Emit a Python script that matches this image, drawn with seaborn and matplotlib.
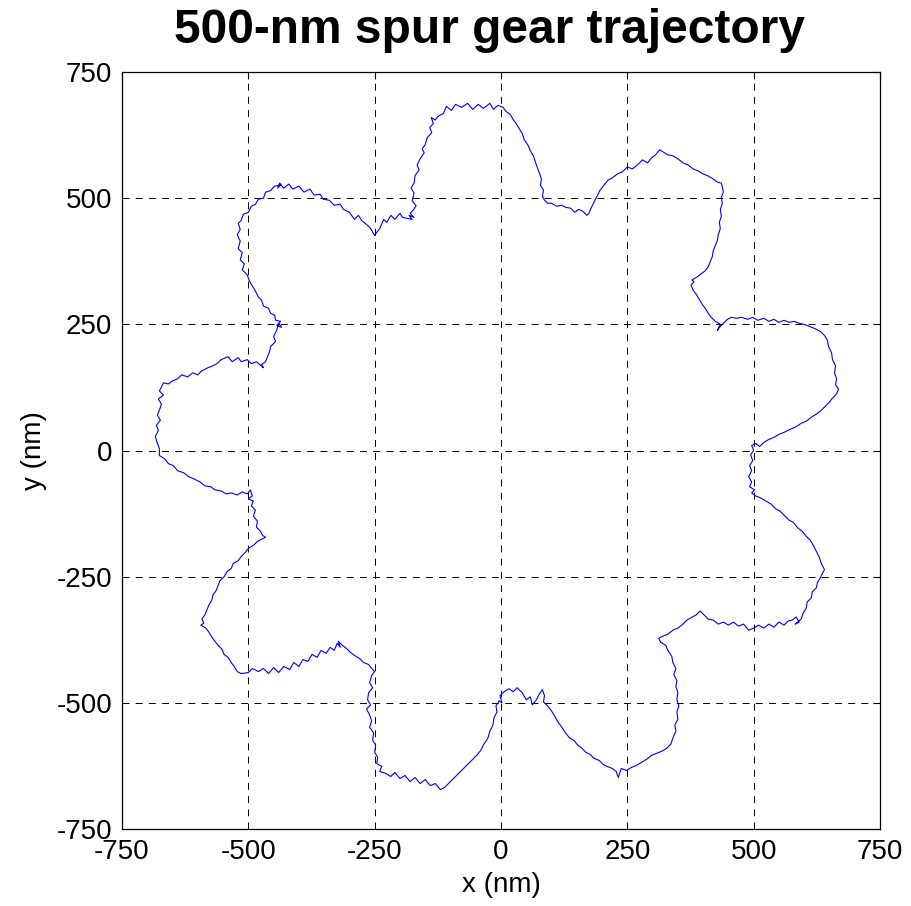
import matplotlib
matplotlib.use("Agg")
import matplotlib.pyplot as plt
import seaborn as sns
import pandas as pd

# Trajectory traced around the gear outline (nm)
x_nm = [
    -125, -130, -138, -134, -141, -137, -146, -150, -156, -152, -160, -166, -162, -170, -172, -178, -172, -176, -168, -174, -180, -172, -182, -176,
    -195, -200, -210, -218, -226, -232, -240, -246, -250,
    -258, -266, -276, -282, -290, -300, -312, -318, -330, -340, -352, -358, -370, -378, -390, -400, -412, -420, -430, -438, -442, -436, -448, -456, -466, -470, -480, -486, -494, -500, -510, -514, -520,
    -516, -522, -516, -520, -512, -516, -508, -512, -502, -498, -492, -486, -480, -474, -470, -460, -456, -448, -446, -436, -444, -434, -440,
    -444, -450, -446, -456, -458, -462, -466, -474, -470,
    -484, -494, -502, -514, -520, -532, -540, -554, -562, -570, -580, -592, -600, -610, -620, -632, -640, -650, -658, -668, -672,
    -676, -668, -678, -672, -676, -680, -674, -682, -678, -684, -680, -676,
    -676, -666, -658, -648, -640, -628, -618, -608, -596, -586, -574, -566, -554, -544, -534, -522, -512, -502, -496, -492, -500, -490,
    -494, -486, -490, -482, -484, -476, -472, -466, -474,
    -482, -490, -500, -506, -514, -520, -530, -534, -542, -548, -556, -560, -564, -570, -572, -578, -582, -586, -592, -588, -594,
    -584, -578, -572, -566, -560, -552, -548, -540, -534, -528, -522, -514,
    -500, -492, -480, -470, -460, -450, -440, -430, -418, -410, -400, -392, -382, -374, -364, -356, -346, -338, -330, -324, -318, -322, -314,
    -306, -298, -290, -280, -272, -262, -256, -250,
    -256, -260, -254, -262, -264, -258, -266, -260, -256, -260, -252, -254, -248, -250, -244, -246, -236, -240,
    -228, -218, -210, -200, -190, -180, -170, -160, -150, -140, -130, -120, -112,
    -104, -96, -88, -80, -72, -64, -56, -48, -40, -34, -26, -22, -16, -14, -8, -10, -4, 2, -2,
    6, 16, 24, 32, 42, 50, 58, 62, 70, 76, 82, 86, 84, 92,
    100, 106, 114, 120, 128, 136, 144, 152, 160, 168, 176, 184, 194, 202, 210, 220, 228, 232, 238,
    248, 258, 268, 278, 288, 298, 308, 318, 328, 336, 340, 346, 344, 350, 348, 352, 348, 350, 346, 348, 342, 346, 340, 338, 330, 326, 316, 312, 320,
    330, 340, 350, 360, 368, 378, 386, 394, 402, 410, 420, 430, 440, 450, 460,
    470, 480, 490, 500, 510, 520, 530, 540, 550, 560, 568, 576, 584, 590, 582, 594,
    598, 604, 606, 614, 616, 624, 626, 632, 636, 640,
    634, 630, 624, 618, 612, 604, 596, 588, 578, 570, 560, 552, 544, 534, 524, 514, 504, 496, 502, 492,
    496, 490, 496, 492, 498, 494, 500, 496, 504,
    512, 520, 530, 540, 550, 560, 572, 582, 594, 604, 614, 624, 634, 642, 650, 656, 664, 668, 662,
    664, 660, 662, 656, 654, 648, 646, 640, 632,
    620, 610, 600, 590, 580, 570, 560, 550, 540, 530, 520, 508, 498, 488, 476, 466, 456, 448,
    440, 432, 428, 434, 424, 416, 410, 404, 398, 392, 386, 380, 376, 382, 378,
    388, 396, 404, 410, 414, 418, 420, 424, 428, 430, 434, 432, 436, 434, 438, 436, 440, 438, 436,
    428, 420, 410, 400, 390, 380, 370, 360, 350, 340, 330, 320, 314,
    306, 298, 290, 280, 270, 260, 250, 240, 230, 220, 212, 204, 196, 190, 184, 178, 174, 170,
    162, 154, 146, 138, 128, 120, 110, 100, 92, 86, 82,
    84, 78, 80, 76, 72, 68, 64, 58, 54, 46, 42, 36, 30, 24, 18, 10, 4,
    -6, -15, -22, -35, -45, -56, -66, -78, -90, -98, -108, -114, -125,
]
y_nm = [
    662, 655, 660, 648, 640, 630, 620, 606, 598, 590, 578, 566, 556, 545, 530, 520, 510, 495, 485, 476, 470, 462, 466, 458,
    462, 470, 458, 466, 452, 458, 440, 432, 426,
    440, 448, 456, 466, 458, 472, 478, 488, 486, 496, 498, 508, 506, 518, 512, 524, 518, 528, 520, 530, 520, 526, 524, 515, 512, 500, 498, 488, 484, 472, 468, 456, 450,
    438, 428, 415, 400, 392, 378, 370, 358, 348, 336, 326, 316, 304, 298, 286, 282, 272, 268, 258, 256, 248, 244, 252,
    238, 226, 216, 206, 196, 186, 176, 170, 164,
    176, 172, 180, 176, 184, 176, 186, 180, 172, 168, 164, 158, 150, 154, 146, 150, 142, 138, 132, 134, 126,
    118, 110, 102, 92, 80, 70, 60, 50, 40, 28, 14, 4,
    -10, -16, -26, -30, -40, -44, -52, -56, -62, -70, -72, -78, -80, -86, -84, -88, -82, -86, -78, -90, -96, -100,
    -110, -118, -130, -140, -152, -160, -168, -172, -176,
    -180, -188, -194, -202, -210, -218, -224, -234, -240, -250, -258, -268, -278, -286, -296, -306, -316, -326, -334, -342, -346,
    -352, -360, -370, -378, -386, -394, -404, -410, -420, -428, -438, -442,
    -440, -432, -438, -432, -442, -430, -440, -428, -434, -420, -428, -414, -418, -404, -410, -396, -402, -390, -396, -382, -390, -378, -386,
    -392, -400, -406, -412, -420, -424, -432, -438,
    -446, -460, -470, -480, -494, -504, -512, -524, -536, -548, -560, -574, -584, -598, -608, -620, -626, -636,
    -640, -646, -638, -650, -644, -656, -648, -660, -652, -664, -660, -672, -668,
    -660, -652, -644, -636, -628, -620, -612, -604, -594, -582, -570, -556, -544, -530, -518, -506, -496, -500, -486,
    -478, -472, -478, -470, -480, -494, -488, -504, -494, -482, -474, -486, -498, -506,
    -516, -526, -540, -548, -560, -570, -574, -584, -590, -598, -602, -610, -614, -622, -626, -630, -636, -648, -630,
    -634, -628, -624, -618, -612, -604, -600, -596, -590, -582, -570, -556, -544, -532, -518, -506, -494, -480, -468, -456, -444, -432, -420, -408, -396, -386, -380, -372, -368,
    -364, -356, -352, -344, -336, -330, -326, -318, -326, -334, -336, -344, -340, -346, -340,
    -348, -344, -356, -352, -346, -352, -344, -350, -340, -346, -338, -336, -330, -340, -344, -334,
    -322, -312, -300, -292, -280, -272, -262, -252, -244, -236,
    -224, -212, -200, -188, -178, -170, -160, -154, -142, -138, -128, -120, -116, -106, -100, -94, -90, -84, -78, -72,
    -62, -52, -40, -30, -20, -8, 0, 10, 14,
    8, 16, 22, 26, 32, 36, 42, 46, 54, 58, 66, 72, 80, 88, 96, 104, 112, 122, 130,
    142, 154, 168, 180, 194, 206, 218, 228, 236,
    242, 246, 250, 252, 256, 254, 258, 254, 260, 256, 262, 258, 264, 260, 264, 262, 264, 260,
    252, 244, 238, 250, 256, 264, 272, 282, 290, 300, 310, 318, 328, 334, 338,
    344, 350, 356, 364, 374, 384, 396, 406, 416, 428, 440, 452, 464, 478, 490, 502, 512, 522, 530,
    532, 538, 544, 548, 554, 558, 566, 570, 578, 584, 586, 592, 596,
    586, 580, 570, 576, 566, 558, 562, 552, 548, 540, 536, 526, 516, 504, 492, 480, 470, 466,
    474, 478, 472, 480, 482, 486, 484, 490, 490, 496, 504,
    516, 526, 538, 550, 560, 572, 584, 594, 604, 616, 628, 638, 648, 656, 666, 672, 680,
    684, 676, 688, 678, 686, 676, 688, 680, 686, 674, 682, 668, 662,
]

ticks = [-750, -500, -250, 0, 250, 500, 750]

n = min(len(x_nm), len(y_nm))
df = pd.DataFrame({"x": x_nm[:n], "y": y_nm[:n], "step": range(n)})

sns.set_style("white")
plt.rcParams["font.family"] = ["Liberation Sans", "DejaVu Sans"]
plt.rcParams["lines.scale_dashes"] = False
plt.rcParams["text.color"] = "black"
plt.rcParams["axes.labelcolor"] = "black"

fig = plt.figure(figsize=(9.11, 9.06), dpi=100)
ax = fig.add_axes([0.1339, 0.085, 0.8321, 0.8355])

sns.lineplot(data=df, x="x", y="y", sort=False, estimator=None,
             color="#0000ff", linewidth=0.8, ax=ax)

ax.set_xlim(-750, 750)
ax.set_ylim(-750, 750)
ax.set_xticks(ticks)
ax.set_yticks(ticks)
ax.set_xticklabels([str(t) for t in ticks])
ax.set_yticklabels([str(t) for t in ticks])
ax.grid(True, color="black", linestyle=(0, (5, 4.5)), linewidth=0.7)
ax.tick_params(direction="in", length=5, width=0.8, labelsize=20,
               top=True, right=True, pad=7, colors="black")
for s in ax.spines.values():
    s.set_color("black")
    s.set_linewidth(0.9)

ax.set_xlabel("x (nm)", fontsize=20, labelpad=5, color="black")
ax.set_ylabel("y (nm)", fontsize=20, labelpad=7, color="black")
fig.text(0.537, 0.966, "500-nm spur gear trajectory", ha="center", va="center",
         fontsize=34.5, fontweight="bold", color="black")

fig.savefig("out.png", dpi=100)
